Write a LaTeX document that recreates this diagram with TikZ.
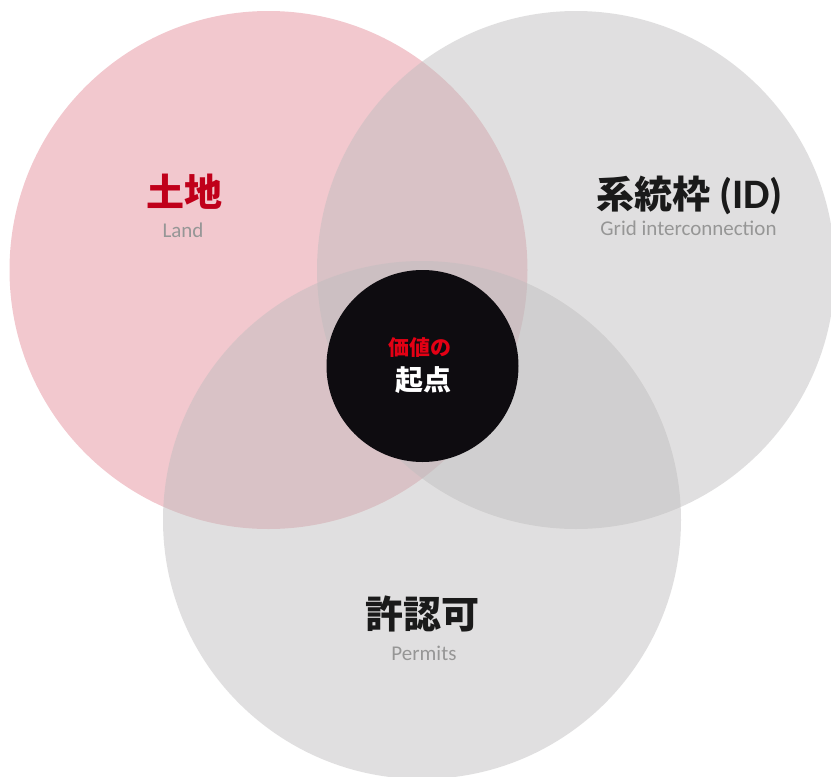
\documentclass[tikz,border=0pt]{standalone}
\usepackage{fontspec}
\setmainfont{Carlito}
\newfontfamily\cjk{Noto Sans CJK JP}
\newfontfamily\lat{Carlito}
\definecolor{pinkfill}{RGB}{242,200,206}
\definecolor{grayfill}{RGB}{191,189,190}
\definecolor{coreblack}{RGB}{14,12,16}
\definecolor{landred}{RGB}{192,0,26}
\definecolor{brightred}{RGB}{228,0,20}
\definecolor{titledark}{RGB}{26,26,26}
\definecolor{subgray}{RGB}{150,150,150}
\tikzset{
  venn/.style={circle, minimum size=518pt, inner sep=0pt, draw=none},
  title/.style={inner sep=0pt, font=\cjk\bfseries\fontsize{38}{42}\selectfont},
  subtitle/.style={inner sep=0pt, text=subgray, font=\lat\fontsize{21}{24}\selectfont},
}
\begin{document}
\begin{tikzpicture}[x=1pt,y=-1pt]
\useasboundingbox (0,0) rectangle (831,777);
\clip (0,0) rectangle (831,777);
\node[venn, fill=pinkfill] (land) at (268.5,270) {};
\node[venn, fill=grayfill, fill opacity=0.48] (grid) at (576,270) {};
\node[venn, fill=grayfill, fill opacity=0.48] (permit) at (422,520) {};
\node[circle, minimum size=192pt, inner sep=0pt, fill=coreblack] (core) at (422.5,366) {};
\node[title, text=landred] (landtitle) at (184,192) {土地};
\node[subtitle] (landsub) at (183,230) {Land};
\node[title, text=titledark, anchor=base] (gridtitle) at (689.5,208) {系統枠\hspace{9pt}{\lat\bfseries\fontsize{42}{46}\selectfont(ID)}};
\node[subtitle] (gridsub) at (688.5,228) {Grid interconnection};
\node[title, text=titledark] (permittitle) at (422.5,614) {許認可};
\node[subtitle] (permitsub) at (424,653.5) {Permits};
\node[inner sep=0pt, text=brightred, font=\cjk\bfseries\fontsize{21}{24}\selectfont] (coretop) at (420,348) {価値の};
\node[inner sep=0pt, text=white, font=\cjk\bfseries\fontsize{28}{32}\selectfont] (corebottom) at (423,380) {起点};
\end{tikzpicture}
\end{document}
